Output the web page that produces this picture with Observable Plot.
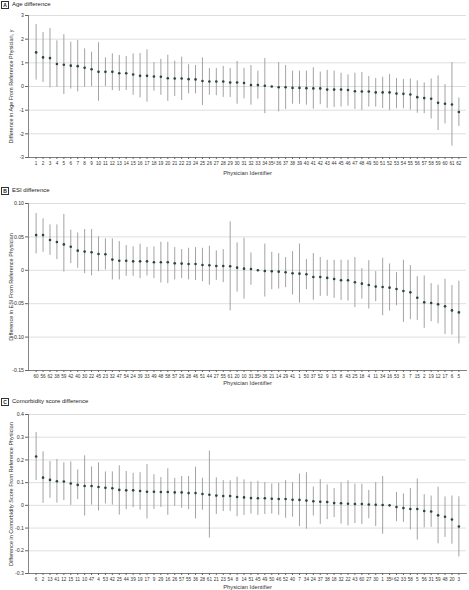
<!DOCTYPE html>
<html><head><meta charset="utf-8">
<script src="https://cdn.jsdelivr.net/npm/d3@7"></script>
<script src="https://cdn.jsdelivr.net/npm/@observablehq/plot@0.6"></script>
<style>
body{margin:0;background:#fff;font-family:"Liberation Sans",Arial,sans-serif;}
.title{height:10px;position:relative;color:#222;}
.title .box{position:absolute;left:1px;top:1px;width:6px;height:6px;border:0.7px solid #333;font-size:5px;line-height:6px;text-align:center;font-weight:bold;}
.title .txt{position:absolute;left:12px;top:1px;line-height:7px;font-size:6px;}
svg{display:block}
</style></head><body><div id="root"></div>
<script>
const referenceId = 35;

// Panel A: age difference (physicians in order 1..62)
const ageIds = [1,2,3,4,5,6,7,8,9,10,11,12,13,14,15,16,17,18,19,20,21,22,23,24,25,26,27,28,29,30,31,32,33,34,35,36,37,38,39,40,41,42,43,44,45,46,47,48,49,50,51,52,53,54,55,56,57,58,59,60,61,62];
const ageEst = [1.44,1.23,1.20,0.95,0.92,0.88,0.86,0.79,0.73,0.62,0.62,0.62,0.56,0.56,0.51,0.45,0.45,0.42,0.41,0.35,0.34,0.34,0.31,0.30,0.23,0.21,0.21,0.21,0.17,0.17,0.15,0.06,0.06,0.03,0,-0.03,-0.03,-0.06,-0.06,-0.07,-0.08,-0.08,-0.13,-0.13,-0.13,-0.15,-0.20,-0.21,-0.21,-0.25,-0.25,-0.25,-0.30,-0.31,-0.34,-0.45,-0.49,-0.52,-0.69,-0.73,-0.76,-1.08];
const ageHigh = [2.62,2.28,2.45,1.93,2.19,1.87,1.94,1.59,1.45,1.85,1.21,1.38,1.31,1.27,1.38,1.39,1.55,1.01,1.15,1.32,1.07,1.24,0.92,0.89,1.21,0.76,0.76,0.85,0.76,1.06,0.77,0.89,0.65,1.18,null,1.01,0.89,0.65,0.65,0.65,0.79,0.61,0.68,0.65,0.56,0.49,0.56,0.59,0.42,0.34,0.39,0.51,0.34,0.30,0.32,0.24,0.15,0.32,0.45,0.08,1.01,-0.48];
const ageLow = [0.27,0.17,-0.06,-0.03,-0.34,-0.11,-0.23,-0.03,0.00,-0.62,0.00,-0.17,-0.20,-0.17,-0.37,-0.48,-0.66,-0.20,-0.37,-0.63,-0.42,-0.59,-0.31,-0.31,-0.80,-0.37,-0.39,-0.46,-0.46,-0.75,-0.52,-0.79,-0.54,-1.15,null,-1.07,-0.97,-0.75,-0.75,-0.79,-0.96,-0.77,-0.92,-0.89,-0.87,-0.83,-0.97,-1.01,-0.87,-0.87,-0.93,-1.01,-0.94,-0.94,-1.00,-1.13,-1.15,-1.37,-1.86,-1.58,-2.52,-1.69];
const ageTicks = [-3,-2,-1,0,1,2,3];
const ageTickLabels = ["-3","-2","-1","0","1","2","3"];

// Panel B: ESI difference
const esiIds = [60,56,62,38,59,42,40,30,22,45,23,32,47,54,24,39,33,49,48,58,57,26,28,46,51,44,27,55,61,20,10,31,35,36,21,14,29,41,1,50,37,52,9,13,8,43,25,18,4,11,34,16,53,3,7,15,2,19,12,17,6,5];
const esiEst = [0.0527,0.0527,0.0453,0.0423,0.0388,0.0353,0.0294,0.028,0.027,0.0244,0.024,0.016,0.0144,0.0144,0.0134,0.0134,0.0134,0.012,0.012,0.012,0.0104,0.010,0.0095,0.0095,0.008,0.0075,0.0065,0.0065,0.006,0.004,0.0025,0.002,0,-0.001,-0.0015,-0.002,-0.003,-0.0045,-0.005,-0.006,-0.010,-0.010,-0.0114,-0.013,-0.015,-0.015,-0.018,-0.020,-0.022,-0.0244,-0.025,-0.026,-0.028,-0.031,-0.033,-0.041,-0.048,-0.049,-0.051,-0.054,-0.060,-0.063];
const esiHigh = [0.085,0.077,0.068,0.068,0.0836,0.060,0.056,0.061,0.061,0.050,0.047,0.047,0.043,0.037,0.035,0.039,0.034,0.035,0.042,0.042,0.034,0.031,0.033,0.034,0.033,0.036,0.029,0.031,0.0726,0.041,0.048,0.026,null,0.0393,0.027,0.025,0.019,0.028,0.0393,0.016,0.025,0.019,0.015,0.015,0.015,0.015,0.019,0.0025,0.0144,-0.002,0.018,0.0095,-0.0035,0.015,0.007,-0.0095,-0.0085,-0.020,-0.0224,-0.0134,-0.0229,-0.0164];
const esiLow = [0.0244,0.0269,0.0224,0.016,-0.0025,0.010,0.003,-0.005,-0.0085,-0.002,0.0005,-0.0144,-0.0144,-0.009,-0.009,-0.0124,-0.0085,-0.0124,-0.019,-0.020,-0.0144,-0.0124,-0.0144,-0.0154,-0.017,-0.0224,-0.015,-0.0184,-0.0607,-0.0328,-0.043,-0.0224,null,-0.040,-0.029,-0.028,-0.026,-0.037,-0.049,-0.029,-0.0448,-0.039,-0.039,-0.042,-0.045,-0.046,-0.056,-0.043,-0.058,-0.047,-0.068,-0.061,-0.053,-0.078,-0.074,-0.075,-0.087,-0.077,-0.080,-0.096,-0.097,-0.110];
const esiTicks = [-0.15,-0.10,-0.05,0,0.05,0.10];
const esiTickLabels = ["-0.15","-0.10","-0.05","0","0.05","0.10"];

// Panel C: comorbidity score difference
const comIds = [6,2,13,41,12,15,11,10,47,4,53,42,25,44,39,19,17,9,29,16,26,57,55,36,28,61,21,23,54,8,14,51,45,49,50,46,52,40,7,34,24,37,38,18,32,22,43,60,27,30,1,35,62,33,58,5,56,31,59,48,20,3];
const comEst = [0.215,0.122,0.112,0.106,0.105,0.096,0.090,0.085,0.085,0.081,0.077,0.075,0.068,0.066,0.066,0.063,0.060,0.060,0.059,0.059,0.057,0.057,0.054,0.054,0.050,0.047,0.043,0.041,0.041,0.037,0.035,0.032,0.031,0.031,0.029,0.028,0.028,0.025,0.024,0.021,0.018,0.016,0.015,0.010,0.009,0.007,0.006,0.006,0.004,0.003,0.0015,0,-0.007,-0.012,-0.016,-0.016,-0.025,-0.027,-0.044,-0.050,-0.062,-0.093];
const comHigh = [0.321,0.236,0.193,0.202,0.187,0.191,0.156,0.218,0.169,0.187,0.147,0.147,0.174,0.149,0.141,0.144,0.180,0.135,0.122,0.161,0.119,0.127,0.127,0.168,0.119,0.239,0.121,0.109,0.108,0.124,0.112,0.103,0.106,0.100,0.094,0.097,0.109,0.100,0.138,0.144,0.081,0.113,0.090,0.074,0.099,0.108,0.093,0.093,0.066,0.100,0.127,null,0.057,0.050,0.074,0.116,0.047,0.041,0.080,0.037,0.041,0.038];
const comLow = [0.109,0.009,0.031,0.010,0.021,0.0,0.025,-0.047,0.001,-0.025,0.006,0.001,-0.043,-0.019,-0.010,-0.021,-0.060,-0.018,-0.009,-0.044,-0.004,-0.013,-0.019,-0.060,-0.021,-0.144,-0.040,-0.027,-0.027,-0.050,-0.044,-0.038,-0.044,-0.040,-0.038,-0.044,-0.057,-0.052,-0.094,-0.105,-0.047,-0.084,-0.063,-0.054,-0.082,-0.091,-0.080,-0.084,-0.059,-0.093,-0.127,null,-0.072,-0.075,-0.108,-0.153,-0.099,-0.097,-0.169,-0.141,-0.171,-0.227];
const comTicks = [-0.3,-0.2,-0.1,0,0.1,0.2,0.3,0.4];
const comTickLabels = ["-0.3","-0.2","-0.1","0","0.1","0.2","0.3","0.4"];

const FONT = '"Liberation Sans", Arial, sans-serif';

function panel(o) {
  const labels = o.ids.map(id => id === referenceId ? id + "ª" : String(id));
  const rows = labels.map((label, i) => ({label, est: o.est[i], low: o.low[i], high: o.high[i]}));
  const wrap = document.createElement("div");
  wrap.innerHTML = `<div class="title"><span class="box">${o.letter}</span><span class="txt">${o.title}</span></div>`;
  const chart = Plot.plot({
    width: 469, height: o.height,
    marginLeft: 28, marginRight: 3, marginTop: o.marginTop, marginBottom: o.marginBottom,
    style: {fontFamily: FONT, fontSize: "5px", color: "#333", background: "white"},
    x: {type: "point", domain: labels, padding: 1.1, label: null, axis: null},
    y: {domain: [o.ticks[0], o.ticks[o.ticks.length - 1]], label: null, axis: null},
    marks: [
      Plot.gridY(o.ticks, {stroke: "#d6d6d6", strokeOpacity: 1, strokeWidth: 0.8}),
      Plot.ruleX(rows.filter(d => d.low != null), {x: "label", y1: "low", y2: "high", stroke: "#999", strokeWidth: 0.9}),
      Plot.dot(rows, {x: "label", y: "est", r: 1.3, fill: "#2a4444", stroke: "none"}),
      Plot.axisY(o.ticks, {tickSize: 3, tickPadding: 1.5, fontSize: 5.2, label: null, stroke: "#666",
        tickFormat: d => o.tickLabels[o.ticks.indexOf(d)]}),
      Plot.axisX({tickSize: 2, tickPadding: 2, fontSize: 4.6, label: null, stroke: "#666"}),
      Plot.frame({anchor: "left", stroke: "#666", strokeWidth: 0.8}),
      Plot.frame({anchor: "bottom", stroke: "#666", strokeWidth: 0.8}),
      Plot.text([o.yTitle], {text: d => d, frameAnchor: "left", textAnchor: "middle", lineAnchor: "middle",
        rotate: -90, dx: -17, fontSize: 5.5, fill: "#333"}),
      Plot.text(["Physician Identifier"], {text: d => d, frameAnchor: "bottom", textAnchor: "middle", lineAnchor: "middle",
        dy: o.xTitleDy, fontSize: 5.8, fill: "#333"})
    ]
  });
  wrap.appendChild(chart);
  return wrap;
}

const root = document.getElementById("root");
root.appendChild(panel({letter: "A", title: "Age difference", ids: ageIds, est: ageEst, low: ageLow, high: ageHigh,
  ticks: ageTicks, tickLabels: ageTickLabels, yTitle: "Difference in Age From Reference Physician, y",
  height: 176, marginTop: 5, marginBottom: 29, xTitleDy: 16}));
root.appendChild(panel({letter: "B", title: "ESI difference", ids: esiIds, est: esiEst, low: esiLow, high: esiHigh,
  ticks: esiTicks, tickLabels: esiTickLabels, yTitle: "Difference in ESI From Reference Physician",
  height: 201, marginTop: 7, marginBottom: 27, xTitleDy: 13}));
root.appendChild(panel({letter: "C", title: "Comorbidity score difference", ids: comIds, est: comEst, low: comLow, high: comHigh,
  ticks: comTicks, tickLabels: comTickLabels, yTitle: "Difference in Comorbidity Score From Reference Physician",
  height: 183, marginTop: 7, marginBottom: 17, xTitleDy: 14}));
</script></body></html>
